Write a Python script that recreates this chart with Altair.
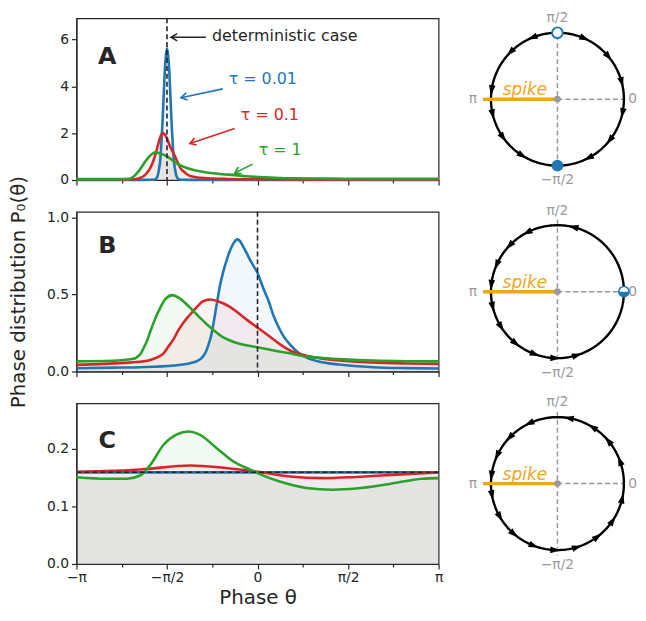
import math
import altair as alt
import pandas as pd

PI = math.pi
BLUE, RED, GREEN = "#1f77b4", "#d62728", "#2ca02c"
ORANGE = "#f5a31a"
GREY = "#9a9a9a"
INK = "#262626"
TAUS = ["0.01", "0.1", "1"]

# ---------------- Panel A : P0(theta) ----------------
a_blue_theta = [-3.1416, -2.2, -1.80, -1.76, -1.73, -1.71, -1.69, -1.67, -1.65, -1.63, -1.61, -1.59,
                -1.5708, -1.55, -1.53, -1.51, -1.49, -1.47, -1.45, -1.43, -1.41, -1.38, -1.34, -0.9, 3.1416]
a_blue_p = [0.005, 0.005, 0.01, 0.06, 0.2, 0.45, 0.8, 1.5, 2.4, 3.5, 4.6, 5.3,
            5.62, 5.3, 4.6, 3.5, 2.4, 1.5, 0.8, 0.45, 0.2, 0.06, 0.01, 0.005, 0.005]

a_red_theta = [-3.1416, -2.5, -2.15, -2.05, -1.974, -1.91, -1.859, -1.81, -1.772, -1.715, -1.68, -1.64,
               -1.60, -1.571, -1.52, -1.444, -1.39, -1.34, -1.25, -1.168, -1.0, -0.852, -0.5, 0.0, 1.0, 3.1416]
a_red_p = [0.02, 0.02, 0.03, 0.08, 0.17, 0.33, 0.52, 0.8, 1.08, 1.6, 1.88, 2.0,
           1.9, 1.78, 1.45, 1.08, 0.78, 0.52, 0.3, 0.17, 0.1, 0.07, 0.045, 0.03, 0.02, 0.02]

a_green_theta = [-3.1416, -2.5, -2.23, -2.175, -2.12, -2.06, -2.0, -1.945, -1.88, -1.82, -1.772, -1.70,
                 -1.571, -1.427, -1.30, -1.14, -1.0, -0.85, -0.6, -0.39, -0.2, 0.013, 0.3, 0.59, 1.28, 2.0, 3.1416]
a_green_p = [0.04, 0.04, 0.05, 0.1, 0.22, 0.38, 0.6, 0.8, 1.0, 1.13, 1.18, 1.14,
             1.01, 0.75, 0.58, 0.45, 0.37, 0.31, 0.25, 0.21, 0.16, 0.13, 0.1, 0.07, 0.06, 0.05, 0.05]

# ---------------- Panel B ----------------
b_blue_theta = [-3.1416, -2.5, -2.03, -1.457, -1.169, -1.05, -0.967, -0.90, -0.85, -0.81, -0.76, -0.708,
                -0.65, -0.593, -0.53, -0.478, -0.42, -0.351, -0.30, -0.248, -0.19, -0.13, -0.06, 0.0,
                0.1, 0.2, 0.27, 0.35, 0.45, 0.558, 0.7, 0.846, 1.1, 1.42, 2.0, 2.6, 3.1416]
b_blue_p = [0.021, 0.025, 0.028, 0.039, 0.054, 0.068, 0.088, 0.125, 0.175, 0.225, 0.32, 0.436,
            0.56, 0.65, 0.73, 0.785, 0.83, 0.858, 0.845, 0.81, 0.77, 0.725, 0.68, 0.64,
            0.54, 0.45, 0.37, 0.3, 0.23, 0.178, 0.125, 0.092, 0.062, 0.045, 0.028, 0.022, 0.02]

b_red_theta = [-3.1416, -2.32, -2.0, -1.86, -1.75, -1.63, -1.55, -1.457, -1.37, -1.28, -1.169, -1.05,
               -0.95, -0.823, -0.7, -0.6, -0.478, -0.35, -0.2, 0.0, 0.2, 0.386, 0.6, 0.846, 1.1, 1.42,
               2.0, 2.6, 3.1416]
b_red_p = [0.043, 0.056, 0.065, 0.075, 0.09, 0.118, 0.16, 0.21, 0.27, 0.32, 0.37, 0.42,
           0.455, 0.468, 0.458, 0.443, 0.42, 0.385, 0.34, 0.285, 0.23, 0.178, 0.13, 0.103, 0.085, 0.071,
           0.058, 0.052, 0.049]

b_green_theta = [-3.1416, -2.5, -2.32, -2.2, -2.12, -2.07, -2.03, -1.98, -1.917, -1.86, -1.80, -1.744,
                 -1.68, -1.6, -1.474, -1.35, -1.169, -1.0, -0.88, -0.75, -0.593, -0.4, -0.2, 0.0,
                 0.3, 0.558, 0.8, 1.134, 1.5, 2.0, 2.6, 3.1416]
b_green_p = [0.066, 0.07, 0.075, 0.08, 0.086, 0.1, 0.114, 0.15, 0.2, 0.26, 0.32, 0.37,
             0.42, 0.47, 0.496, 0.475, 0.414, 0.35, 0.307, 0.265, 0.221, 0.19, 0.17, 0.157,
             0.135, 0.118, 0.1, 0.088, 0.079, 0.071, 0.067, 0.066]

# ---------------- Panel C ----------------
c_blue_theta = [-3.1416, -1.5708, 0.0, 1.5708, 3.1416]
c_blue_p = [0.159, 0.159, 0.159, 0.159, 0.159]

c_red_theta = [-3.1416, -2.03, -1.17, -0.59, 0.0, 0.558, 1.13, 1.71, 2.57, 3.1416]
c_red_p = [0.160, 0.164, 0.171, 0.167, 0.160, 0.152, 0.149, 0.151, 0.156, 0.159]

c_green_theta = [-3.1416, -2.61, -2.26, -2.03, -1.86, -1.63, -1.40, -1.2, -0.996, -0.708, -0.42, -0.132,
                 0.04, 0.386, 0.846, 1.31, 1.71, 2.29, 2.86, 3.1416]
c_green_p = [0.1506, 0.148, 0.148, 0.154, 0.172, 0.207, 0.225, 0.23, 0.224, 0.201, 0.178, 0.164,
             0.156, 0.143, 0.132, 0.129, 0.131, 0.139, 0.148, 0.149]
uniform_p = [0.1592]

# ---------------- Annotations (panel A) ----------------
ann_text = ["deterministic case", "τ = 0.01", "τ = 0.1", "τ = 1"]
ann_text_theta = [-0.79, -0.50, -0.29, 0.02]
ann_text_p = [6.15, 4.30, 2.78, 1.30]
ann_color = [INK, BLUE, RED, GREEN]
arrow_tail_theta = [-0.896, -0.603, -0.396, -0.085]
arrow_tail_p = [6.09, 3.89, 2.2, 0.68]
arrow_head_theta = [-1.50, -1.328, -1.173, -0.396]
arrow_head_p = [6.09, 3.51, 1.56, 0.30]
arrow_head_angle = [270, 258, 252, 243]

# ---------------- Phase-circle flow arrows (degrees) ----------------
a_flow_ccw = [112, 135, 172, 193, 215, 238]
a_flow_cw = [66, 40, 15, -12, -38, -62]
b_flow_ccw = [76, 117, 136, 156, 174, 193, 212, 231, 250, 268, 287]
c_flow_ccw = [20, 40, 58, 80, 115, 136, 155, 173, 190, 210, 229, 249, 268, 287, 307, 326, 347]

circle_labels = ["π/2", "−π/2", "π", "0"]
circle_label_x = [0.0, 0.0, -1.27, 1.13]
circle_label_y = [1.22, -1.22, 0.0, 0.0]

# ---------------- helpers ----------------
color_scale = alt.Scale(domain=TAUS, range=[BLUE, RED, GREEN])
W_DIST = 365
R_PX = 67.0
XLEFT = 1.4
W_CIRC = 174
XDOM = [-XLEFT, W_CIRC / R_PX - XLEFT]


def series_df(parts):
    rows = []
    for tau, th, p in parts:
        for t, v in zip(th, p):
            rows.append({"theta": t, "p": v, "tau": tau})
    return pd.DataFrame(rows)


LABEL_EXPR = ("abs(datum.value + PI) < 0.01 ? '−π' : abs(datum.value + PI/2) < 0.01 ? '−π/2' : "
              "abs(datum.value) < 0.01 ? '0' : abs(datum.value - PI/2) < 0.01 ? 'π/2' : "
              "abs(datum.value - PI) < 0.01 ? 'π' : ''")


def x_axis(show):
    kw = dict(values=[k * PI / 4 for k in range(-4, 5)], grid=False,
              tickSize={"condition": {"test": "abs(round(datum.value*4/PI)) % 2 == 1", "value": 3}, "value": 5},
              labelFlush=False, labelOverlap=False)
    if show:
        kw.update(labelExpr=LABEL_EXPR, title="Phase θ", titleFontSize=20, titleFontWeight="normal",
                  titlePadding=3, labelPadding=2)
    else:
        kw.update(labels=False, title=None)
    return alt.Axis(**kw)


def dist_panel(df, ymax, yvals, yfmt, h, ytitle, show_x, letter, letter_y, extra):
    x = alt.X("theta:Q", scale=alt.Scale(domain=[-PI, PI], nice=False, zero=False), axis=x_axis(show_x))
    yaxis = dict(values=yvals, format=yfmt, grid=False, tickSize=5, labelPadding=3)
    if ytitle:
        yaxis.update(title=ytitle, titleFontSize=20, titleFontWeight="normal", titlePadding=18)
    else:
        yaxis.update(title=None)
    y = alt.Y("p:Q", stack=None, scale=alt.Scale(domain=[0, ymax], nice=False, zero=True), axis=alt.Axis(**yaxis))
    col = alt.Color("tau:N", scale=color_scale, legend=None)
    base = alt.Chart(df)
    area = base.mark_area(opacity=0.06, interpolate="monotone").encode(x=x, y=y, color=col)
    line = base.mark_line(strokeWidth=2.6, interpolate="monotone").encode(x=x, y=y, color=col)
    lab = alt.Chart(pd.DataFrame({"t": [letter]})).mark_text(
        fontSize=24, fontWeight="bold", align="center", baseline="middle", color=INK
    ).encode(x=alt.value(31), y=alt.value(letter_y), text="t:N")
    return alt.layer(area, line, *extra, lab).properties(width=W_DIST, height=h)


def circle_panel(h, ccw, cw, markers):
    ydom = [-h / 2 / R_PX, h / 2 / R_PX]
    xs = alt.Scale(domain=XDOM, nice=False, zero=False)
    ys = alt.Scale(domain=ydom, nice=False, zero=False)

    def X(f):
        return alt.X(f, scale=xs, axis=None)

    def Y(f):
        return alt.Y(f, scale=ys, axis=None)

    ring = alt.Chart(alt.sequence(0, 362, 2, as_="deg")).transform_calculate(
        cx="cos(datum.deg*PI/180)", cy="sin(datum.deg*PI/180)"
    ).mark_line(color="black", strokeWidth=2.4).encode(x=X("cx:Q"), y=Y("cy:Q"), order="deg:Q")

    guides = pd.DataFrame({"x": [0.0, 0.0], "y": [0.0, 1.08], "x2": [1.0, 0.0], "y2": [0.0, -1.08]})
    dashed = alt.Chart(guides).mark_rule(color=GREY, strokeWidth=1.5, strokeDash=[5, 3]).encode(
        x=X("x:Q"), y=Y("y:Q"), x2="x2:Q", y2="y2:Q")
    spike = alt.Chart(pd.DataFrame({"x": [0.0], "y": [0.0], "x2": [-1.12], "y2": [0.0]})).mark_rule(
        color=ORANGE, strokeWidth=3.5).encode(x=X("x:Q"), y=Y("y:Q"), x2="x2:Q", y2="y2:Q")
    spike_txt = alt.Chart(pd.DataFrame({"x": [-0.49], "y": [0.06], "t": ["spike"]})).mark_text(
        color=ORANGE, fontSize=17, fontStyle="italic", align="center", baseline="alphabetic"
    ).encode(x=X("x:Q"), y=Y("y:Q"), text="t:N")
    center = alt.Chart(pd.DataFrame({"x": [0.0], "y": [0.0]})).mark_point(
        filled=True, color=GREY, size=45, opacity=1).encode(x=X("x:Q"), y=Y("y:Q"))
    labels = alt.Chart(pd.DataFrame({"x": circle_label_x, "y": circle_label_y, "t": circle_labels})).mark_text(
        color=GREY, fontSize=14, align="center", baseline="middle").encode(x=X("x:Q"), y=Y("y:Q"), text="t:N")

    flow = pd.DataFrame({"deg": list(ccw) + list(cw), "dir": ["ccw"] * len(ccw) + ["cw"] * len(cw)})
    arrows = alt.Chart(flow).transform_calculate(
        ax="cos(datum.deg*PI/180)", ay="sin(datum.deg*PI/180)",
        ang="datum.dir == 'ccw' ? (((360 - datum.deg) % 360) + 360) % 360 : (((180 - datum.deg) % 360) + 360) % 360"
    ).mark_point(shape="M0,-1L0.62,0.9L-0.62,0.9Z", filled=True, color="black", size=115, opacity=1).encode(
        x=X("ax:Q"), y=Y("ay:Q"), angle=alt.Angle("ang:Q", scale=None))

    layers = [dashed, ring, arrows, spike, spike_txt, center, labels]
    for m in markers:
        kind, mx, my = m
        d = pd.DataFrame({"x": [mx], "y": [my]})
        if kind == "open":
            layers.append(alt.Chart(d).mark_point(shape="circle", filled=True, fill="white", stroke=BLUE,
                                                  strokeWidth=2, size=115, opacity=1).encode(x=X("x:Q"), y=Y("y:Q")))
        elif kind == "full":
            layers.append(alt.Chart(d).mark_point(shape="circle", filled=True, color=BLUE, size=140,
                                                  opacity=1).encode(x=X("x:Q"), y=Y("y:Q")))
        elif kind == "half":
            layers.append(alt.Chart(d).mark_point(shape="circle", filled=True, color=BLUE, size=140,
                                                  opacity=1).encode(x=X("x:Q"), y=Y("y:Q")))
            layers.append(alt.Chart(d).mark_point(shape="M-1,0A1,1,0,0,1,1,0Z", filled=True, color="white",
                                                  size=75, opacity=1).encode(x=X("x:Q"), y=Y("y:Q")))
    return alt.layer(*layers).properties(width=W_CIRC, height=h,
                                         view=alt.ViewBackground(stroke="transparent"))


# ---------------- build panels ----------------
H_A, H_B, H_C = 163, 161, 162
GAP = 32

df_a = series_df([("0.01", a_blue_theta, a_blue_p), ("0.1", a_red_theta, a_red_p), ("1", a_green_theta, a_green_p)])
df_b = series_df([("0.01", b_blue_theta, b_blue_p), ("0.1", b_red_theta, b_red_p), ("1", b_green_theta, b_green_p)])
df_c = series_df([("0.01", c_blue_theta, c_blue_p), ("0.1", c_red_theta, c_red_p), ("1", c_green_theta, c_green_p)])

det_a = alt.Chart(pd.DataFrame({"theta": [-PI / 2]})).mark_rule(
    color=INK, strokeWidth=1.6, strokeDash=[5, 3]).encode(x="theta:Q")
ann_df = pd.DataFrame({"theta": arrow_tail_theta, "p": arrow_tail_p, "theta2": arrow_head_theta,
                       "p2": arrow_head_p, "ang": arrow_head_angle, "col": ann_color})
ann_rules = alt.Chart(ann_df).mark_rule(strokeWidth=1.6).encode(
    x="theta:Q", y="p:Q", x2="theta2:Q", y2="p2:Q", color=alt.Color("col:N", scale=None))
ann_heads = alt.Chart(ann_df).mark_point(shape="M-0.6,1L0,0L0.6,1", filled=False, strokeWidth=1.6,
                                         size=150, opacity=1).encode(
    x="theta2:Q", y="p2:Q", angle=alt.Angle("ang:Q", scale=None), color=alt.Color("col:N", scale=None))
txt_df = pd.DataFrame({"theta": ann_text_theta, "p": ann_text_p, "t": ann_text, "col": ann_color})
ann_txt = alt.Chart(txt_df).mark_text(fontSize=16, align="left", baseline="middle").encode(
    x="theta:Q", y="p:Q", text="t:N", color=alt.Color("col:N", scale=None))

det_b = alt.Chart(pd.DataFrame({"theta": [0.0]})).mark_rule(
    color=INK, strokeWidth=1.6, strokeDash=[5, 3]).encode(x="theta:Q")
det_c = alt.Chart(pd.DataFrame({"p": uniform_p})).mark_rule(
    color=INK, strokeWidth=1.6, strokeDash=[5, 3]).encode(y="p:Q")

panel_a = dist_panel(df_a, 6.9, [0, 2, 4, 6], "d", H_A, None, False, "A", 39,
                     [det_a, ann_rules, ann_heads, ann_txt])
panel_b = dist_panel(df_b, 1.037, [0, 0.5, 1.0], ".1f", H_B, "Phase distribution P₀(θ)", False, "B", 35,
                     [det_b])
panel_c = dist_panel(df_c, 0.279, [0, 0.1, 0.2], ".1f", H_C, None, True, "C", 38, [det_c])

circ_a = circle_panel(H_A, a_flow_ccw, a_flow_cw, [("open", 0.0, 1.0), ("full", 0.0, -1.0)])
circ_b = circle_panel(H_B, b_flow_ccw, [], [("half", 1.0, 0.0)])
circ_c = circle_panel(H_C, c_flow_ccw, [], [])

left_col = alt.vconcat(panel_a, panel_b, panel_c, spacing=GAP, bounds="flush")
right_col = alt.vconcat(circ_a, circ_b, circ_c, spacing=GAP, bounds="flush")

chart = alt.hconcat(left_col, right_col, spacing=19).properties(padding=0).configure(
    font="DejaVu Sans"
).configure_axis(
    domainColor=INK, tickColor=INK, labelColor=INK, titleColor=INK, labelFontSize=14,
    domainWidth=1.2, tickWidth=1.2, labelFont="DejaVu Sans", titleFont="DejaVu Sans"
).configure_view(stroke=INK, strokeWidth=1.2)

chart.save("out.html", embed_options={"renderer": "svg", "actions": False})
